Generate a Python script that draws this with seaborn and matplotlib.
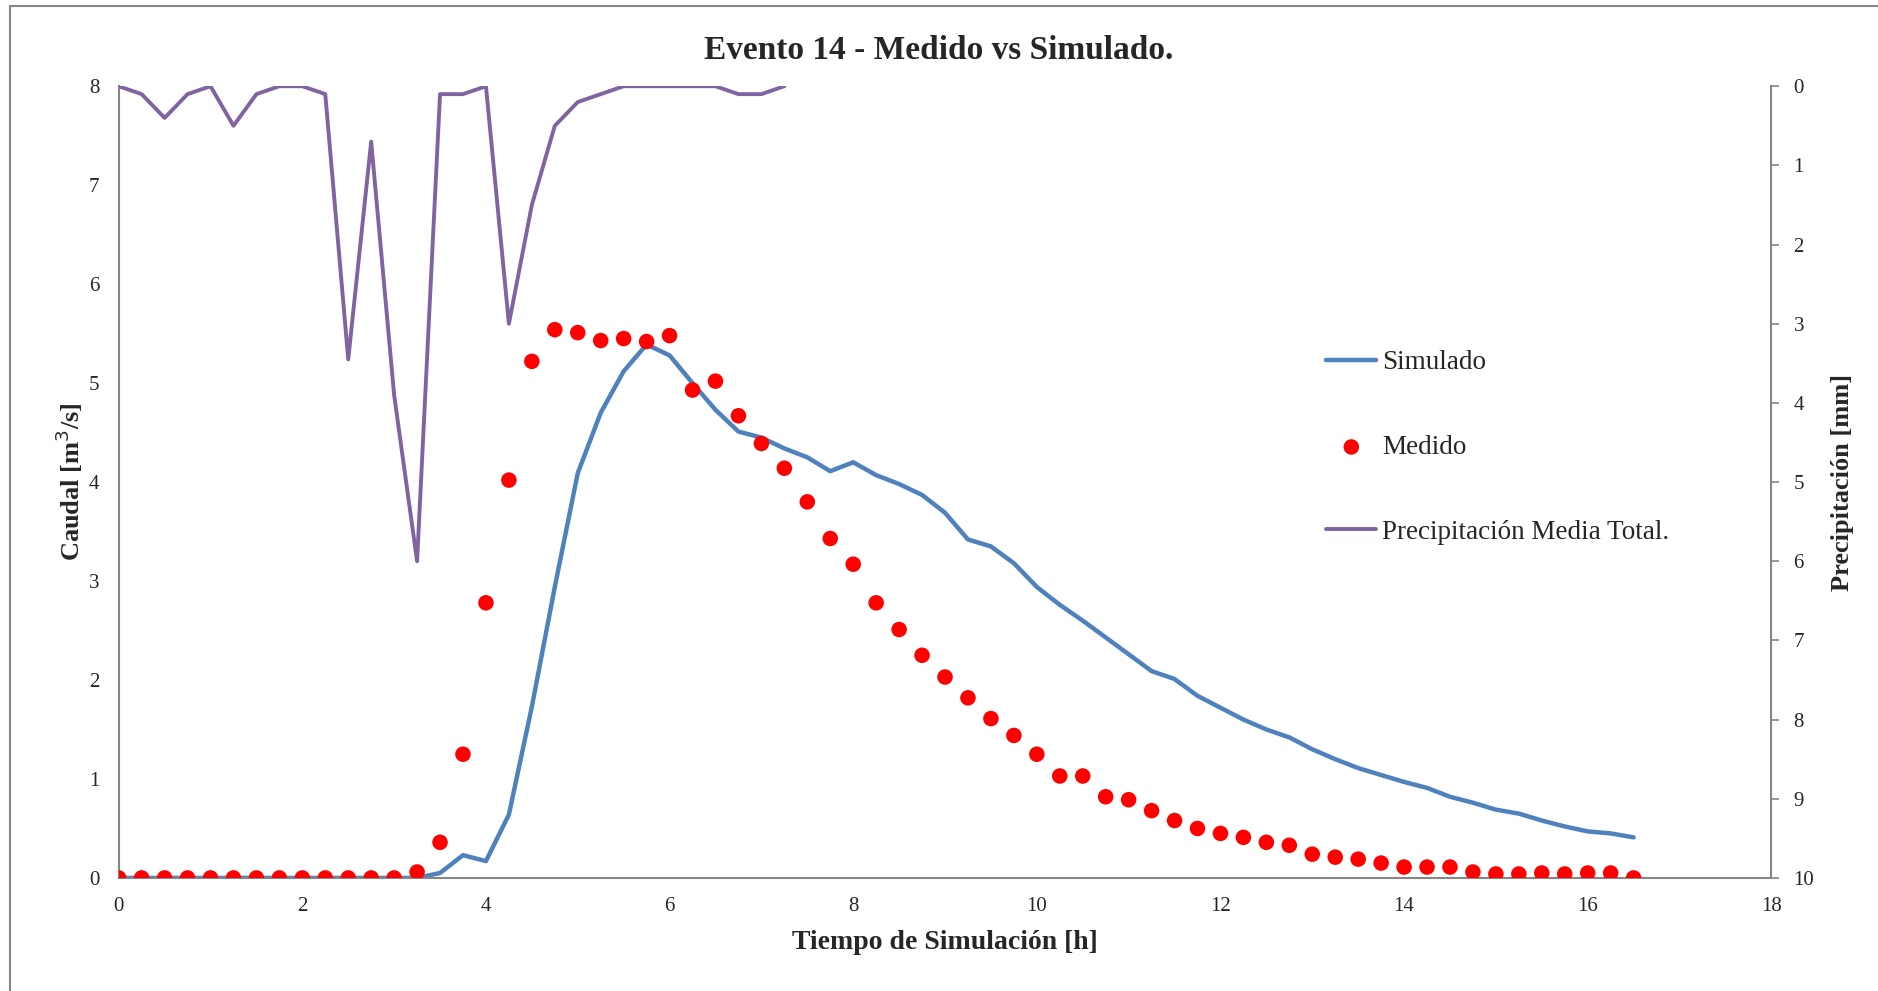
import matplotlib
matplotlib.use("Agg")
import matplotlib.pyplot as plt
import seaborn as sns
import pandas as pd
from matplotlib.patches import Rectangle

# time steps (h), every 15 min
tiempo = [i * 0.25 for i in range(67)]

medido = [0, 0, 0, 0, 0, 0, 0, 0, 0, 0, 0, 0, 0,
          0.06, 0.36, 1.25, 2.78, 4.02, 5.22, 5.54, 5.51, 5.43, 5.45, 5.42, 5.48,
          4.93, 5.02, 4.67, 4.39, 4.14, 3.80, 3.43, 3.17, 2.78, 2.51, 2.25, 2.03,
          1.82, 1.61, 1.44, 1.25, 1.03, 1.03, 0.82, 0.79, 0.68, 0.58, 0.50, 0.45,
          0.41, 0.36, 0.33, 0.24, 0.21, 0.19, 0.15, 0.11, 0.11, 0.11, 0.06, 0.04,
          0.04, 0.05, 0.04, 0.05, 0.05, 0.0]

simulado = [0, 0, 0, 0, 0, 0, 0, 0, 0, 0, 0, 0, 0, 0,
            0.05, 0.23, 0.17, 0.64, 1.73, 2.94, 4.09, 4.70, 5.12, 5.39, 5.28,
            5.00, 4.73, 4.51, 4.45, 4.34, 4.25, 4.11, 4.20, 4.07, 3.98, 3.87, 3.69,
            3.42, 3.35, 3.18, 2.94, 2.76, 2.60, 2.43, 2.26, 2.09, 2.01, 1.84, 1.72,
            1.60, 1.50, 1.42, 1.30, 1.20, 1.11, 1.04, 0.97, 0.91, 0.82, 0.76, 0.69,
            0.65, 0.58, 0.52, 0.47, 0.45, 0.41]

tiempo_pp = [i * 0.25 for i in range(30)]
precipitacion = [0, 0.1, 0.4, 0.1, 0, 0.5, 0.1, 0, 0, 0.1, 3.45, 0.7, 3.9, 6.0,
                 0.1, 0.1, 0, 3.0, 1.5, 0.5, 0.2, 0.1, 0, 0, 0, 0, 0, 0.1, 0.1, 0]

df = pd.DataFrame({"t": tiempo, "medido": medido, "simulado": simulado})
df_pp = pd.DataFrame({"t": tiempo_pp, "pp": precipitacion})

sns.set_theme(style="white")
plt.rcParams["font.family"] = ["Liberation Serif", "DejaVu Serif"]

fig = plt.figure(figsize=(18.78, 9.91), dpi=100)
ax = fig.add_axes([0.0632, 0.1141, 0.88, 0.7989])
ax2 = ax.twinx()

gris = "#868686"

sns.lineplot(data=df, x="t", y="simulado", color="#4F81BD", linewidth=3.2,
             ax=ax, label="Simulado", legend=False)
sns.scatterplot(data=df, x="t", y="medido", color="#FF0000", s=125,
                edgecolor="none", ax=ax, label="Medido", legend=False, zorder=3)
sns.lineplot(data=df_pp, x="t", y="pp", color="#8064A2", linewidth=2.8,
             ax=ax2, label="Precipitación Media Total.", legend=False)

ax.set_xlim(0, 18)
ax.set_ylim(0, 8)
ax.set_xticks(range(0, 19, 2))
ax.set_yticks(range(0, 9))
ax2.set_ylim(10, 0)
ax2.set_yticks(range(0, 11))

for a in (ax, ax2):
    for s in a.spines.values():
        s.set_visible(False)
ax.spines["left"].set_visible(True)
ax.spines["bottom"].set_visible(True)
ax2.spines["right"].set_visible(True)
for s in (ax.spines["left"], ax.spines["bottom"], ax2.spines["right"]):
    s.set_color(gris)
    s.set_linewidth(1.5)

ax.tick_params(axis="x", length=0, labelsize=15, pad=14)
ax.tick_params(axis="y", length=0, labelsize=15, pad=14)
ax2.tick_params(axis="y", direction="out", length=6, width=1.2, color=gris,
                labelsize=15, pad=10)

ax.set_xlabel("Tiempo de Simulación [h]", fontsize=20, fontweight="bold", labelpad=10)
ax.set_ylabel("Caudal [m$^3$/s]", fontsize=19, fontweight="bold", labelpad=3)
ax2.set_ylabel("Precipitación [mm]", fontsize=19, fontweight="bold", labelpad=12)

fig.text(0.5, 0.949, "Evento 14 - Medido vs Simulado.", ha="center", va="center",
         fontsize=24, fontweight="bold")

handles = ax.get_legend_handles_labels()[0] + ax2.get_legend_handles_labels()[0]
labels = ["Simulado", "Medido", "Precipitación Media Total."]
fig.legend(handles, labels, loc="upper left", bbox_to_anchor=(0.699, 0.66),
           frameon=False, fontsize=19.5, labelspacing=2.2, handlelength=1.85,
           handletextpad=0.2, borderpad=0, markerscale=1.0)

# outer chart frame, cut at right and bottom like the source
fig.patches.append(Rectangle((0.0055, -0.1), 1.1, 1.094, transform=fig.transFigure,
                             fill=False, edgecolor=gris, linewidth=1.5))

fig.savefig("out.png", dpi=100)
